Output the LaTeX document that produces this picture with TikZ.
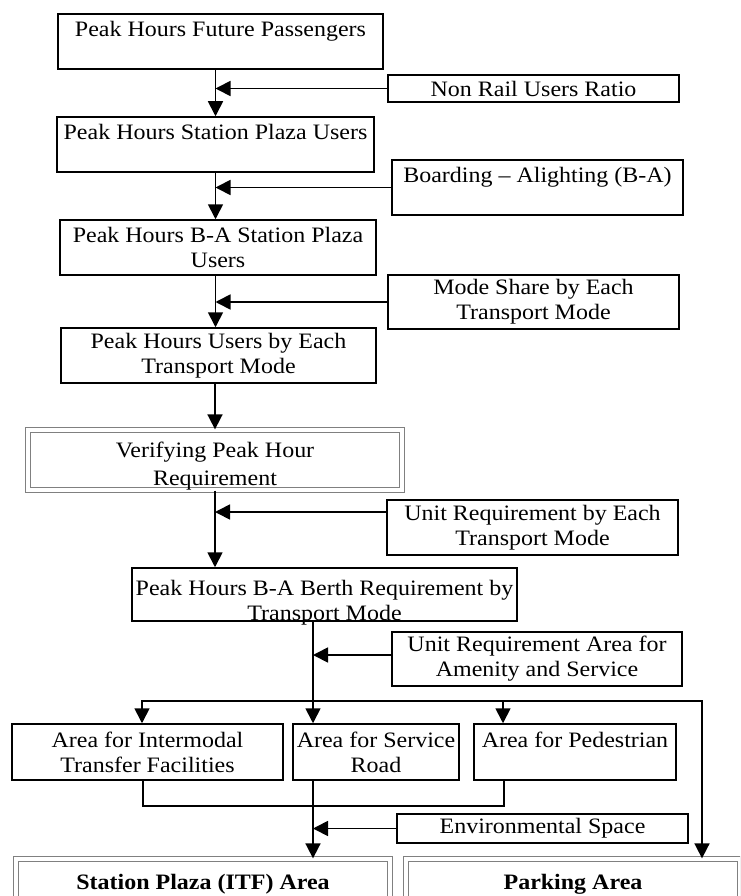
\documentclass[tikz,border=0pt]{standalone}
\usepackage{fontspec}
\setmainfont[FakeStretch=1.09]{Liberation Serif}
\usetikzlibrary{arrows.meta}

\begin{document}
\begin{tikzpicture}[
    x=1pt, y=-1pt,
    font=\fontsize{22}{25}\selectfont,
    process/.style={rectangle, draw, line width=1.5pt, align=center, inner sep=2pt},
    result/.style={rectangle, draw=black!50, double=white, double distance=3.2pt, line width=1.3pt, align=center, inner sep=2pt},
    arrow/.style={->, line width=1.7pt, >={Triangle[length=15pt,width=15pt]}},
    link/.style={line width=1.7pt}
]
\clip (0,0) rectangle (740,896);

% Main chain
\node[process, minimum width=325pt, minimum height=55pt] (b1) at (220.5,41.5) {Peak Hours Future Passengers\\~};
\node[process, minimum width=317pt, minimum height=55pt] (b2) at (215.5,144.5) {Peak Hours Station Plaza Users\\~};
\node[process, minimum width=316pt, minimum height=55pt] (b3) at (218,247.5) {Peak Hours B-A Station Plaza\\Users};
\node[process, minimum width=315pt, minimum height=55pt] (b4) at (218.5,355.5) {Peak Hours Users by Each\\Transport Mode};
\node[result, minimum width=374pt, minimum height=60pt, text height=53pt, text depth=3pt] (verify) at (215,460) {Verifying Peak Hour\\[3pt]Requirement};
\node[process, minimum width=385pt, minimum height=53pt, inner ysep=1pt, text height=51pt, text depth=0pt] (berth) at (324.5,594.5) {Peak Hours B-A Berth Requirement by\\Transport Mode};

% Side inputs
\node[process, minimum width=291pt, minimum height=27pt] (nonrail) at (533.5,88.5) {Non Rail Users Ratio};
\node[process, minimum width=291pt, minimum height=55pt] (ba) at (537.5,187.5) {Boarding -- Alighting (B-A)\\~};
\node[process, minimum width=291pt, minimum height=54pt] (mode) at (533.5,302) {Mode Share by Each\\Transport Mode};
\node[process, minimum width=291pt, minimum height=55pt] (unitreq) at (532.5,527.5) {Unit Requirement by Each\\Transport Mode};
\node[process, minimum width=290pt, minimum height=54pt] (amen) at (537,659) {Unit Requirement Area for\\Amenity and Service};
\node[process, minimum width=291pt, minimum height=29pt] (env) at (542.5,828.5) {Environmental Space};

% Areas
\node[process, minimum width=271pt, minimum height=56pt] (inter) at (147.5,752) {Area for Intermodal\\Transfer Facilities};
\node[process, minimum width=166pt, minimum height=56pt] (serv) at (376,752) {Area for Service\\Road};
\node[process, minimum width=202pt, minimum height=56pt] (ped) at (575,752) {Area for Pedestrian\\~};
\node[result, minimum width=374pt, minimum height=50pt, font=\fontsize{22}{25}\selectfont\bfseries] (plaza) at (203,884) {Station Plaza (ITF) Area};
\node[result, minimum width=334pt, minimum height=50pt, font=\fontsize{22}{25}\selectfont\bfseries] (park) at (573,884) {Parking Area};

\coordinate (split) at (313,701);

\draw[arrow] (b1.south -| b2.north) -- (b2.north);
\draw[arrow] (nonrail.west) -- (nonrail.west -| b2.north);
\draw[arrow] (b2.south) -- (b2.south |- b3.north);
\draw[arrow] (ba.west) -- (ba.west -| b2.south);
\draw[arrow] (b3.south -| b2.south) -- (b2.south |- b4.north);
\draw[arrow] (mode.west) -- (mode.west -| b2.south);
\draw[arrow] (b4.south -| verify.north) -- (verify.north);
\draw[arrow] (verify.south) -- (verify.south |- berth.north);
\draw[arrow] ([yshift=15.5pt]unitreq.west) -- ([yshift=15.5pt]unitreq.west -| verify.south);
\draw[arrow] (berth.south -| split) -- (split |- serv.north);
\draw[arrow] ([yshift=4pt]amen.west) -- ([yshift=4pt]amen.west -| split);
\draw[arrow] (split) -| ([xshift=-5.5pt]inter.north);
\draw[arrow] (split) -| ([xshift=-72pt]ped.north);
\draw[arrow] (split) -| ([xshift=129pt]park.north);
\draw[link] ([xshift=-4.5pt]inter.south) -- ++(0,25) -| ([xshift=-71pt]ped.south);
\draw[arrow] (serv.south -| split) -- (split |- plaza.north);
\draw[arrow] (env.west) -- (env.west -| split);
\end{tikzpicture}
\end{document}
